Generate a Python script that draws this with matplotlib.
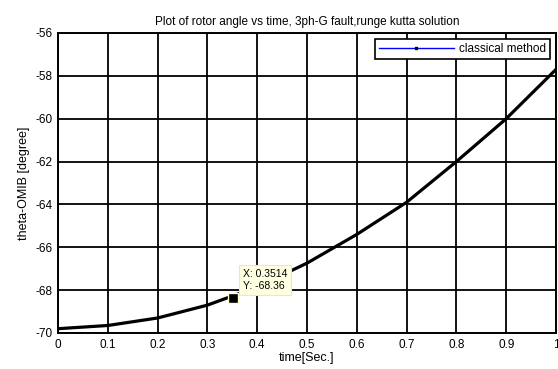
import matplotlib
matplotlib.use("Agg")
import matplotlib.pyplot as plt
from matplotlib.lines import Line2D

plt.rcParams['font.family'] = ['Liberation Sans', 'DejaVu Sans']
plt.rcParams['axes.unicode_minus'] = False

time = [0.0, 0.1, 0.2, 0.3, 0.4, 0.5, 0.6, 0.7, 0.8, 0.9, 1.0]
theta = [-69.8, -69.65, -69.3, -68.7, -67.85, -66.74, -65.4, -63.9, -62.0, -60.0, -57.7]
tip_x = 0.3514
tip_y = -68.36
xticks = [0, 0.1, 0.2, 0.3, 0.4, 0.5, 0.6, 0.7, 0.8, 0.9, 1]
xticklabels = ['0', '0.1', '0.2', '0.3', '0.4', '0.5', '0.6', '0.7', '0.8', '0.9', '1']
yticks = [-70, -68, -66, -64, -62, -60, -58, -56]

fig = plt.figure(figsize=(5.58, 3.69), dpi=100)
ax = fig.add_axes([0.104, 0.0976, 0.8924, 0.813])

ax.plot(time, theta, color='black', lw=2.3, solid_capstyle='round', solid_joinstyle='round', zorder=3)
ax.set_xlim(0, 1)
ax.set_ylim(-70, -56)
ax.set_xticks(xticks)
ax.set_xticklabels(xticklabels)
ax.set_yticks(yticks)
ax.tick_params(direction='in', length=0, labelsize=8.5, pad=4)
ax.grid(True, color='black', lw=1.3, ls='-')
ax.set_axisbelow(True)
for s in ax.spines.values():
    s.set_linewidth(1.4)

ax.set_title('Plot of rotor angle vs time, 3ph-G fault,runge kutta solution', fontsize=8.5, pad=6)
ax.set_xlabel('time[Sec.]', fontsize=9, labelpad=1)
ax.set_ylabel('theta-OMIB [degree]', fontsize=9, labelpad=4)

# data tip
ax.plot([tip_x], [tip_y], marker='s', ms=6.5, mfc='black', mec='#ffffcc', mew=1, zorder=5)
ax.annotate(f'X: {tip_x}\nY: {tip_y}', xy=(tip_x, tip_y), xytext=(7, 5), textcoords='offset points',
            fontsize=7.5, va='bottom', ha='left', linespacing=1.25,
            bbox=dict(boxstyle='square,pad=0.4', fc='#ffffe1', ec='#e8e8c8', lw=0.8), zorder=6)

handle = Line2D([0], [0], color='blue', lw=1, marker='s', ms=1.8, mfc='black', mec='black')
leg = ax.legend([handle], ['classical method'], loc='upper right', fontsize=8.5,
                fancybox=False, framealpha=1, edgecolor='black', borderaxespad=0.5,
                handlelength=6.4, handletextpad=0.4, borderpad=0.35, numpoints=1)
leg.get_frame().set_linewidth(1.2)

fig.savefig('out.png', dpi=100)
